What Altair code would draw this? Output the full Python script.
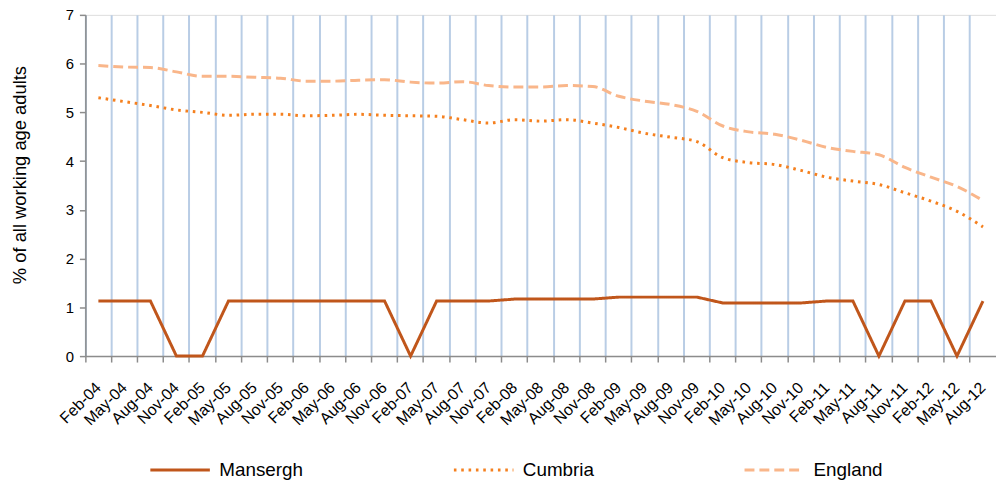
import altair as alt
import pandas as pd

quarters = ["Feb-04", "May-04", "Aug-04", "Nov-04", "Feb-05", "May-05", "Aug-05", "Nov-05",
            "Feb-06", "May-06", "Aug-06", "Nov-06", "Feb-07", "May-07", "Aug-07", "Nov-07",
            "Feb-08", "May-08", "Aug-08", "Nov-08", "Feb-09", "May-09", "Aug-09", "Nov-09",
            "Feb-10", "May-10", "Aug-10", "Nov-10", "Feb-11", "May-11", "Aug-11", "Nov-11",
            "Feb-12", "May-12", "Aug-12"]

mansergh = [1.13, 1.13, 1.13, 0.0, 0.0, 1.13, 1.13, 1.13, 1.13, 1.13, 1.13, 1.13, 0.0, 1.13,
            1.13, 1.13, 1.17, 1.17, 1.17, 1.17, 1.21, 1.21, 1.21, 1.21, 1.09, 1.09, 1.09, 1.09,
            1.13, 1.13, 0.0, 1.13, 1.13, 0.0, 1.13]

cumbria = [5.30, 5.22, 5.14, 5.05, 5.00, 4.94, 4.96, 4.96, 4.93, 4.94, 4.96, 4.94, 4.93, 4.92,
           4.85, 4.78, 4.85, 4.82, 4.85, 4.78, 4.69, 4.57, 4.49, 4.40, 4.07, 3.97, 3.93, 3.81,
           3.67, 3.59, 3.52, 3.35, 3.18, 2.97, 2.65]

england = [5.96, 5.93, 5.92, 5.83, 5.74, 5.74, 5.72, 5.70, 5.64, 5.64, 5.66, 5.67, 5.62, 5.60,
           5.63, 5.55, 5.52, 5.52, 5.55, 5.53, 5.33, 5.23, 5.16, 5.02, 4.72, 4.60, 4.55, 4.43,
           4.28, 4.20, 4.13, 3.87, 3.67, 3.48, 3.19]

series_names = ["Mansergh", "Cumbria", "England"]
series_colors = ["#c0561b", "#f5801f", "#f9b68a"]
series_dash = [[1, 0], [2.6, 4.8], [10, 5]]
series_width = [3, 3, 4]
y_ticks = [0, 1, 2, 3, 4, 5, 6, 7]

df = pd.DataFrame({"quarter": quarters, "Mansergh": mansergh, "Cumbria": cumbria, "England": england})
long = df.melt(id_vars="quarter", var_name="series", value_name="value")

FONT = "Liberation Sans"

x_enc = alt.X(
    "quarter:N",
    sort=quarters,
    scale=alt.Scale(type="band", paddingInner=0, paddingOuter=0),
    axis=alt.Axis(
        title=None,
        bandPosition=0,
        grid=True,
        gridColor="#b9cde5",
        gridWidth=2,
        domainColor="#8c8c8c",
        domainWidth=1.5,
        tickColor="#8c8c8c",
        tickWidth=1.5,
        tickSize=6,
        labelAngle=-45,
        labelAlign="right",
        labelBaseline="middle",
        labelFont=FONT,
        labelFontSize=16,
        labelColor="#000000",
        labelPadding=23,
        labelOffset=0,
    ),
)

y_enc = alt.Y(
    "value:Q",
    scale=alt.Scale(domain=[0, 7], nice=False),
    axis=alt.Axis(
        title="% of all working age adults",
        titleFont=FONT,
        titleFontSize=18.5,
        titleFontWeight="normal",
        titleColor="#000000",
        titleAngle=-90,
        titleX=-66,
        titleY=161,
        titleAlign="center",
        titleBaseline="middle",
        values=y_ticks,
        grid=False,
        domainColor="#8c8c8c",
        domainWidth=1.5,
        tickColor="#8c8c8c",
        tickWidth=1.5,
        tickSize=6,
        labelFont=FONT,
        labelFontSize=15,
        labelColor="#000000",
        labelPadding=6,
    ),
)

legend = alt.Legend(
    title=None,
    orient="none",
    direction="horizontal",
    legendX=64,
    legendY=427,
    symbolType="stroke",
    symbolSize=3600,
    labelFont=FONT,
    labelFontSize=19,
    labelColor="#000000",
    labelOffset=8,
    columnPadding=145,
)

base = alt.Chart(long).encode(
    x=x_enc,
    y=y_enc,
    color=alt.Color("series:N", sort=series_names,
                    scale=alt.Scale(domain=series_names, range=series_colors), legend=legend),
    strokeDash=alt.StrokeDash("series:N", sort=series_names,
                              scale=alt.Scale(domain=series_names, range=series_dash), legend=legend),
    strokeWidth=alt.StrokeWidth("series:N", sort=series_names,
                                scale=alt.Scale(domain=series_names, range=series_width), legend=legend),
    detail="series:N",
)

smooth = base.transform_filter(alt.datum.series != "Mansergh").mark_line(
    interpolate="monotone", strokeCap="butt")
straight = base.transform_filter(alt.datum.series == "Mansergh").mark_line(
    interpolate="linear", strokeCap="butt", strokeJoin="miter")

chart = (
    alt.layer(smooth, straight)
    .properties(
        width=918,
        height=344,
        autosize=alt.AutoSizeParams(type="none"),
        padding={"left": 78, "top": 5, "right": 0, "bottom": 125},
    )
    .configure_view(stroke=None)
    .configure(background="#ffffff")
)

chart.save("out.html", embed_options={"renderer": "svg", "actions": False})
